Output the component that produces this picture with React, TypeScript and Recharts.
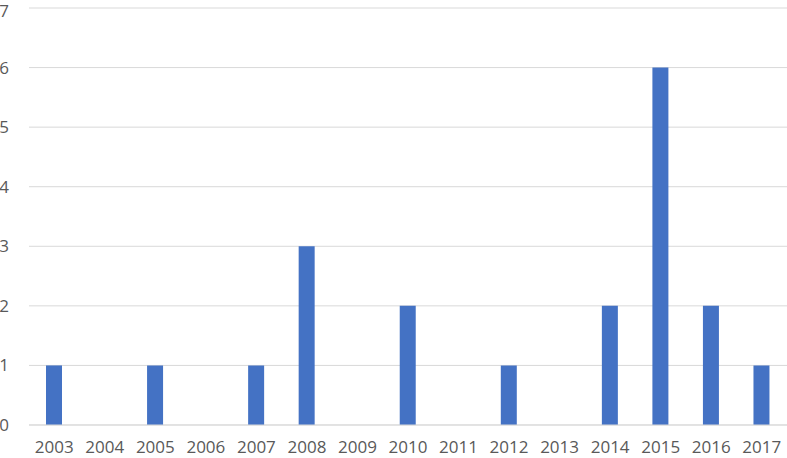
import { BarChart, Bar, XAxis, YAxis, CartesianGrid } from 'recharts'

const years = ['2003', '2004', '2005', '2006', '2007', '2008', '2009', '2010', '2011', '2012', '2013', '2014', '2015', '2016', '2017']
const counts = [1, 0, 1, 0, 1, 3, 0, 2, 0, 1, 0, 2, 6, 2, 1]
const yTicks = [0, 1, 2, 3, 4, 5, 6, 7]

const data = years.map((year, i) => ({ year, count: counts[i] }))

const tickStyle = { fill: '#595959', fontSize: 17, fontFamily: '"Open Sans", sans-serif' }

// keeps the top label ("7") inside the picture
function YTick(props: any) {
  const { x, y, payload } = props
  return (
    <text x={x} y={Math.max(y, 11)} dy="0.355em" textAnchor="end" {...tickStyle}>
      {payload.value}
    </text>
  )
}

export default function App() {
  return (
    <div style={{ position: 'absolute', left: 0, top: 0, background: '#fff' }}>
      <BarChart width={787} height={458} data={data} margin={{ top: 8, right: 0, bottom: 0, left: 0 }}>
        <CartesianGrid vertical={false} stroke="#d9d9d9" />
        <XAxis
          dataKey="year"
          height={33}
          axisLine={{ stroke: '#d9d9d9' }}
          tickLine={false}
          tickSize={0}
          tickMargin={16}
          tick={tickStyle}
          interval={0}
        />
        <YAxis
          width={29}
          domain={[0, 7]}
          ticks={yTicks}
          axisLine={false}
          tickLine={false}
          tickSize={0}
          tickMargin={20}
          tick={<YTick />}
        />
        <Bar dataKey="count" fill="#4472c4" barSize={16} isAnimationActive={false} />
      </BarChart>
    </div>
  )
}
